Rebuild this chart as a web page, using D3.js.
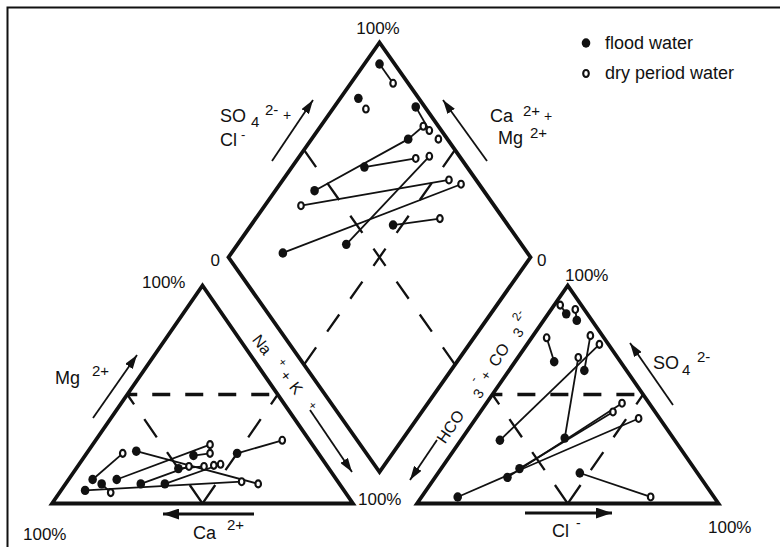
<!DOCTYPE html>
<html>
<head>
<meta charset="utf-8">
<script src="https://cdn.jsdelivr.net/npm/d3@7"></script>
<style>
  body { margin: 0; background: #fff; }
  svg { display: block; }
  text { font-family: "Liberation Sans", Arial, Helvetica, sans-serif; fill: #111; }
</style>
</head>
<body>
<svg id="chart" width="780" height="547"></svg>
<script>
// ---- Cation triangle: [Mg2+ %, Na+ + K+ %]  (Ca2+ is the remainder) ----
const cationFlood = [[11, 8], [24, 16], [11, 16], [9, 25], [9, 33], [6, 8], [9, 12], [23, 50], [22, 36], [16, 34]];
const cationDry   = [[23, 12], [9, 64], [27, 39], [17, 37], [18, 47], [5, 17], [10, 58], [29, 62], [23, 41], [17, 42], [17.5, 45]];
const cationLinks = [["f0", "d0"], ["f1", "d1"], ["f2", "d2"], ["f3", "d3"], ["f4", "d4"], ["f5", "d6"], ["f6", "d5"], ["f7", "d7"], ["f8", "d8"], ["f9", "d9"]];

// ---- Anion triangle: [SO4 2- %, Cl- %]  (HCO3- + CO3 2- is the remainder) ----
const anionFlood = [[87, 6], [84, 11], [65, 13], [61, 25], [29, 13], [30, 34], [16, 26], [12, 24], [3, 12], [14, 47]];
const anionDry   = [[91, 2], [89, 8], [76, 5], [77, 19], [73, 24], [67, 20], [46, 45], [42, 44], [39, 54], [3, 76]];
const anionLinks = [["f0", "d0"], ["f1", "d1"], ["f2", "d2"], ["f3", "d3"], ["f4", "d4"], ["f5", "d5"], ["f6", "d7"], ["f7", "d6"], ["f8", "d8"], ["f9", "d9"]];

// ---- Diamond: [Ca2+ + Mg2+ %, SO4 2- + Cl- %] ----
const diamondFlood = [[95, 95], [94, 80], [73, 97], [68, 87], [76, 66], [87, 44], [53, 62], [64, 42], [83, 19]];
const diamondDry   = [[86, 95], [89, 80], [66, 95], [63, 96], [58, 97], [61, 85], [57, 90], [88, 36], [45, 91], [40, 94], [39, 79]];
const diamondLinks = [["f0", "d0"], ["f2", "d3"], ["f3", "d2"], ["f5", "f3"], ["f4", "d5"], ["f6", "d10"], ["f7", "d6"], ["f8", "d9"], ["d7", "d8"]];

const legendLabels = ["flood water", "dry period water"];

const svg = d3.select("#chart");

// ---- scales ----
const yTri = d3.scaleLinear().domain([0, 100]).range([503.5, 285.5]);
const xCat = d3.scaleLinear().domain([0, 100]).range([52, 353]);
const xAn  = d3.scaleLinear().domain([0, 100]).range([417, 718.5]);
const xDia = d3.scaleLinear().domain([-100, 100]).range([228.5, 530.5]);
const yDia = d3.scaleLinear().domain([0, 200]).range([472, 42.5]);

const catPos = ([mg, na]) => [xCat(na + mg / 2), yTri(mg)];
const anPos  = ([so4, cl]) => [xAn(cl + so4 / 2), yTri(so4)];
const diaPos = ([cm, sc]) => [xDia(sc - cm), yDia(cm + sc)];

const line = d3.line();

// ---- frame ----
svg.append("path").attr("d", "M780,7.5H7.5V547").attr("fill", "none")
  .attr("stroke", "#111").attr("stroke-width", 2);

// ---- arrow heads ----
const defs = svg.append("defs");
function head(id, w, h) {
  defs.append("marker").attr("id", id)
    .attr("viewBox", `0 0 ${w} ${h}`).attr("refX", w).attr("refY", h / 2)
    .attr("markerWidth", w).attr("markerHeight", h)
    .attr("markerUnits", "userSpaceOnUse").attr("orient", "auto")
    .append("path").attr("d", `M0,0L${w},${h / 2}L0,${h}Z`).attr("fill", "#111");
}
head("hd", 14, 9);
head("hdBig", 16, 11);

// marker sizes
const FLOOD_R = [4.3, 4.7];
const DRY_R = [2.8, 3.5];

// ---- panels ----
const panels = [
  { pos: catPos, outline: [[0, 0], [0, 100], [100, 0]],
    flood: cationFlood, dry: cationDry, links: cationLinks,
    half: [[50, 0], [50, 50]], vee: [[[50, 0], [0, 50]], [[50, 50], [0, 50]]] },
  { pos: anPos, outline: [[0, 0], [0, 100], [100, 0]],
    flood: anionFlood, dry: anionDry, links: anionLinks,
    half: [[50, 0], [50, 50]], vee: [[[50, 0], [0, 50]], [[50, 50], [0, 50]]] },
  { pos: diaPos, outline: [[0, 0], [100, 0], [100, 100], [0, 100]],
    flood: diamondFlood, dry: diamondDry, links: diamondLinks,
    cross: [[[100, 50], [0, 50]], [[50, 100], [50, 0]]] }
];

panels.forEach(p => {
  const g = svg.append("g");
  // dashed sub-division lines
  if (p.half) {
    g.append("path").attr("d", line(p.half.map(p.pos)))
      .attr("stroke", "#111").attr("stroke-width", 3.6)
      .attr("stroke-dasharray", "18,15").attr("stroke-dashoffset", 8);
    p.vee.forEach(seg => g.append("path").attr("d", line(seg.map(p.pos)))
      .attr("stroke", "#111").attr("stroke-width", 2.3)
      .attr("stroke-dasharray", "22,18").attr("stroke-dashoffset", 10));
  }
  if (p.cross) {
    p.cross.forEach(seg => g.append("path").attr("d", line(seg.map(p.pos)))
      .attr("stroke", "#111").attr("stroke-width", 2.3)
      .attr("stroke-dasharray", "21,19.25"));
  }
  // outline
  g.append("path").attr("d", line(p.outline.map(p.pos)) + "Z")
    .attr("fill", "none").attr("stroke", "#111").attr("stroke-width", 3.8)
    .attr("stroke-linejoin", "miter");
  // flood / dry pairs
  const pick = k => (k[0] === "f" ? p.flood : p.dry)[+k.slice(1)];
  g.selectAll(".lk").data(p.links).join("path")
    .attr("d", d => line(d.map(k => p.pos(pick(k)))))
    .attr("stroke", "#111").attr("stroke-width", 1.8).attr("fill", "none");
  g.selectAll(".fl").data(p.flood).join("ellipse")
    .attr("cx", d => p.pos(d)[0]).attr("cy", d => p.pos(d)[1])
    .attr("rx", FLOOD_R[0]).attr("ry", FLOOD_R[1]).attr("fill", "#111");
  g.selectAll(".dr").data(p.dry).join("ellipse")
    .attr("cx", d => p.pos(d)[0]).attr("cy", d => p.pos(d)[1])
    .attr("rx", DRY_R[0]).attr("ry", DRY_R[1]).attr("fill", "#fff")
    .attr("stroke", "#111").attr("stroke-width", 2.1);
});

// ---- axis arrows ----
const arrows = [
  [[272, 161], [313, 100], "hd", 1.8],
  [[487, 161], [443, 100], "hd", 1.8],
  [[93, 418], [137, 355], "hd", 1.8],
  [[310, 410], [352, 472], "hd", 1.8],
  [[254, 514], [163, 514], "hdBig", 3.2],
  [[437, 440], [410, 480], "hd", 1.8],
  [[673, 405], [630, 343], "hd", 1.8],
  [[525, 513], [612, 513], "hdBig", 3.2]
];
svg.append("g").selectAll("path").data(arrows).join("path")
  .attr("d", d => line([d[0], d[1]]))
  .attr("stroke", "#111").attr("stroke-width", d => d[3])
  .attr("marker-end", d => `url(#${d[2]})`);

// ---- labels: [x, y, text, size, anchor] ----
const labels = [
  [378, 34, "100%", 17, "middle"],
  [220, 266, "0", 17, "end"], [537, 266, "0", 17, "start"],
  [220, 122, "SO", 18], [251, 127, "4", 15], [265, 115, "2-", 15], [283, 120, "+", 14],
  [220, 146, "Cl", 18], [241, 139, "-", 13],
  [490, 122, "Ca", 18], [523, 116, "2+", 15], [544, 121, "+", 14],
  [498, 144, "Mg", 18], [530, 138, "2+", 15],
  [142, 288, "100%", 17], [358, 505, "100%", 17], [23, 540, "100%", 17],
  [55, 384, "Mg", 18], [92, 376, "2+", 15],
  [193, 539, "Ca", 18], [227, 530, "2+", 15],
  [565, 281, "100%", 17], [708, 533, "100%", 17],
  [653, 369, "SO", 18], [682, 375, "4", 15], [697, 362, "2-", 15],
  [552, 537, "Cl", 18], [576, 528, "-", 14]
];
svg.append("g").selectAll("text").data(labels).join("text")
  .attr("x", d => d[0]).attr("y", d => d[1])
  .attr("font-size", d => d[3]).attr("text-anchor", d => d[4] || "start")
  .text(d => d[2]);

// rotated edge labels: [along, up, text, size, anchor]
function rotated(x, y, angle, parts) {
  const g = svg.append("g").attr("transform", `translate(${x},${y}) rotate(${angle})`);
  g.selectAll("text").data(parts).join("text")
    .attr("x", d => d[0]).attr("y", d => -d[1])
    .attr("font-size", d => d[3]).attr("text-anchor", d => d[4] || "start")
    .text(d => d[2]);
}
rotated(251.5, 340, 52, [
  [0, 0, "Na", 16], [36.8, 7, "+", 12, "middle"], [49.4, 0, "+", 15, "middle"],
  [60, 0, "K", 16], [89.4, 4, "+", 12, "middle"]
]);
rotated(445, 444.5, -56, [
  [0, 0, "HCO", 16], [60.9, -4, "3", 14, "middle"], [70, 9, "-", 12, "middle"],
  [80, 0, "+", 14, "middle"], [92.4, 0, "CO", 16], [133.8, -3, "3", 14, "middle"],
  [147.9, 8, "2-", 12, "middle"]
]);

// ---- legend ----
const lg = svg.append("g");
lg.append("ellipse").attr("cx", 586).attr("cy", 43).attr("rx", FLOOD_R[0]).attr("ry", FLOOD_R[1]).attr("fill", "#111");
lg.append("ellipse").attr("cx", 586).attr("cy", 73.5).attr("rx", DRY_R[0]).attr("ry", DRY_R[1])
  .attr("fill", "#fff").attr("stroke", "#111").attr("stroke-width", 2.1);
lg.selectAll("text").data(legendLabels).join("text")
  .attr("x", 605).attr("y", (d, i) => 48.5 + i * 30.2)
  .attr("font-size", 18).text(d => d);
</script>
</body>
</html>
